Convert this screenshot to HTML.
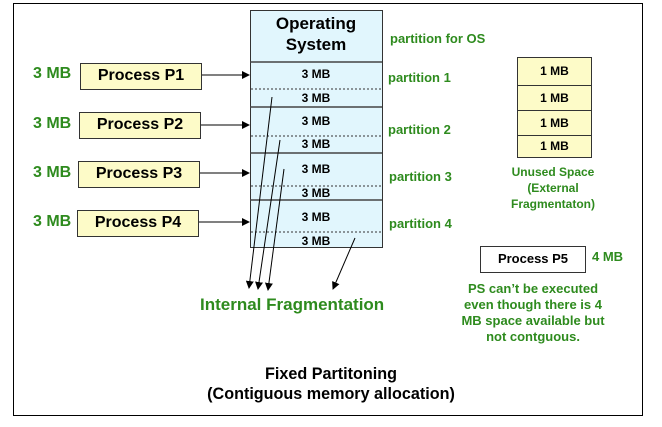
<!DOCTYPE html>
<html><head><style>
body{margin:0;width:662px;height:427px;background:#fff;position:relative;font-family:"Liberation Sans",Arial,sans-serif;overflow:hidden}
.a{position:absolute;white-space:nowrap}
.g{color:#2e8b1e;font-weight:bold}
.pb{position:absolute;background:#fdfbc8;border:1.5px solid #333;box-sizing:border-box;font-weight:bold;font-size:16px;text-align:center;line-height:23px}
.mb{position:absolute;left:250px;width:132px;text-align:center;font-weight:bold;font-size:12px}
</style></head><body>
<div class="a" style="left:13px;top:3px;width:628px;height:411px;border:1.5px solid #000"></div>
<div class="a" style="left:250px;top:10px;width:131px;height:236px;background:#e1f6fd;border:1.5px solid #333"></div>
<div class="a" style="left:250px;top:13px;width:132px;text-align:center;font-weight:bold;font-size:17px;line-height:21px">Operating<br>System</div>
<svg class="a" style="left:0;top:0" width="662" height="427">
<defs><marker id="m" markerWidth="8" markerHeight="8" refX="7" refY="4" orient="auto"><path d="M0,0L8,4L0,8z" fill="#000"/></marker></defs>
<g stroke="#444" stroke-width="1.5"><line x1="250" y1="62" x2="382" y2="62"/><line x1="250" y1="107" x2="382" y2="107"/><line x1="250" y1="153" x2="382" y2="153"/><line x1="250" y1="200" x2="382" y2="200"/></g>
<g stroke="#333" stroke-width="1" stroke-dasharray="2,2"><line x1="251" y1="89" x2="381" y2="89"/><line x1="251" y1="136" x2="381" y2="136"/><line x1="251" y1="186" x2="381" y2="186"/><line x1="251" y1="232" x2="381" y2="232"/></g>
<g stroke="#000" stroke-width="1" marker-end="url(#m)"><line x1="201" y1="75" x2="249" y2="75"/><line x1="200" y1="125" x2="249" y2="125"/><line x1="199" y1="173" x2="249" y2="173"/><line x1="198" y1="222" x2="249" y2="222"/>
<line x1="272" y1="97" x2="249" y2="288"/><line x1="280" y1="140" x2="258" y2="289"/><line x1="284" y1="169" x2="268" y2="290"/><line x1="355" y1="238" x2="333" y2="289"/></g>
</svg>
<div class="mb" style="top:67px">3 MB</div><div class="mb" style="top:91px">3 MB</div>
<div class="mb" style="top:114px">3 MB</div><div class="mb" style="top:137px">3 MB</div>
<div class="mb" style="top:162px">3 MB</div><div class="mb" style="top:186px">3 MB</div>
<div class="mb" style="top:210px">3 MB</div><div class="mb" style="top:234px">3 MB</div>
<div class="pb" style="left:80px;top:63px;width:122px;height:27px">Process P1</div>
<div class="pb" style="left:79px;top:112px;width:122px;height:27px">Process P2</div>
<div class="pb" style="left:78px;top:161px;width:122px;height:27px">Process P3</div>
<div class="pb" style="left:77px;top:210px;width:122px;height:27px">Process P4</div>
<div class="a g" style="left:33px;top:65px;font-size:16px">3 MB</div>
<div class="a g" style="left:33px;top:115px;font-size:16px">3 MB</div>
<div class="a g" style="left:33px;top:164px;font-size:16px">3 MB</div>
<div class="a g" style="left:33px;top:213px;font-size:16px">3 MB</div>
<div class="a g" style="left:390px;top:31px;font-size:13px">partition for OS</div>
<div class="a g" style="left:388px;top:70px;font-size:13px">partition 1</div>
<div class="a g" style="left:388px;top:122px;font-size:13px">partition 2</div>
<div class="a g" style="left:389px;top:169px;font-size:13px">partition 3</div>
<div class="a g" style="left:389px;top:216px;font-size:13px">partition 4</div>
<div class="a g" style="left:200px;top:295px;font-size:17px">Internal Fragmentation</div>
<div class="pb" style="left:517px;top:57px;width:75px;height:29px;font-size:12px;line-height:27px">1 MB</div>
<div class="pb" style="left:517px;top:85px;width:75px;height:26px;font-size:12px;line-height:24px">1 MB</div>
<div class="pb" style="left:517px;top:110px;width:75px;height:26px;font-size:12px;line-height:24px">1 MB</div>
<div class="pb" style="left:517px;top:135px;width:75px;height:23px;font-size:12px;line-height:21px">1 MB</div>
<div class="a g" style="left:493px;top:164px;width:120px;text-align:center;font-size:12px;line-height:16px">Unused Space<br>(External<br>Fragmentaton)</div>
<div class="pb" style="left:480px;top:246px;width:106px;height:27px;background:#fff;font-size:13px;line-height:24px">Process P5</div>
<div class="a g" style="left:592px;top:249px;font-size:13px">4 MB</div>
<div class="a g" style="left:453px;top:281px;width:160px;text-align:center;font-size:13px;line-height:16px">PS can’t be executed<br>even though there is 4<br>MB space available but<br>not contguous.</div>
<div class="a" style="left:0;top:364px;width:662px;text-align:center;font-size:17px;font-weight:bold;line-height:20px;transform:scaleX(0.95)">Fixed Partitoning<br>(Contiguous memory allocation)</div>
</body></html>
